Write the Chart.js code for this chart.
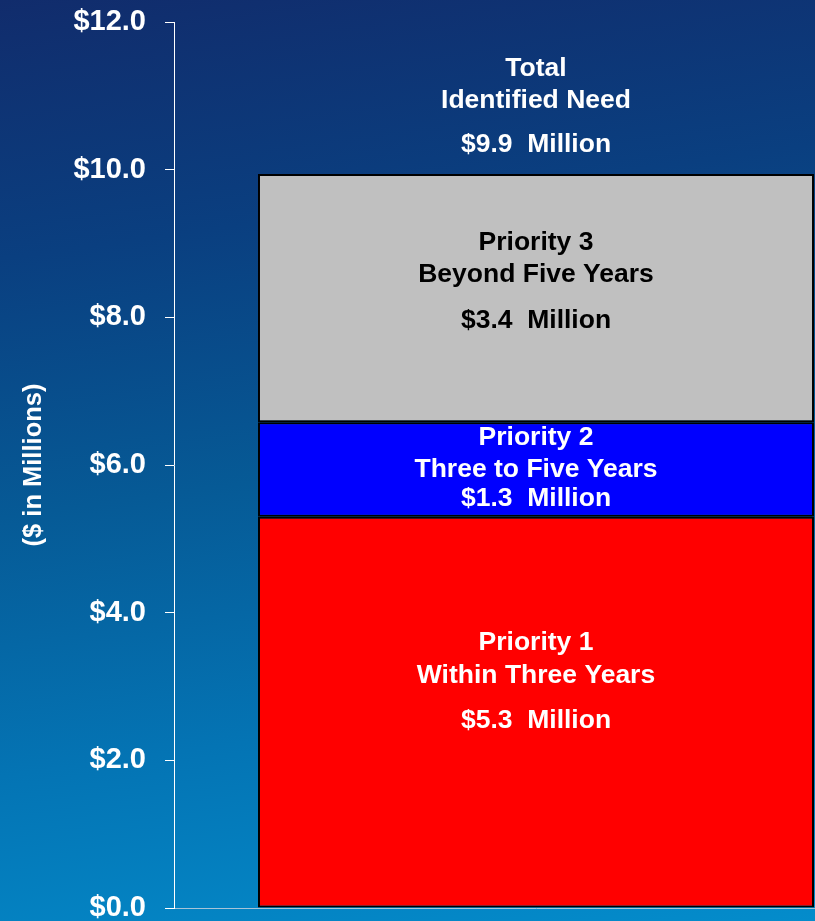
<!DOCTYPE html>
<html>
<head>
<meta charset="utf-8">
<script src="https://cdn.jsdelivr.net/npm/chart.js@4.4.0/dist/chart.umd.min.js"></script>
<style>
  html, body { margin: 0; padding: 0; overflow: hidden; width: 815px; height: 921px; }
  body { background: linear-gradient(172deg, #112c6c 0%, #0a3f80 25%, #065a96 50%, #0474b4 75%, #048ccb 100%); }
  canvas { display: block; }
</style>
</head>
<body>
<canvas id="needChart" width="898" height="921"></canvas>
<script>
// segment values ($ millions)
const categories = [''];
const segmentNames = ['Priority 1', 'Priority 2', 'Priority 3'];
const segmentValues = [5.3, 1.28, 3.36];
const segmentColors = ['#ff0000', '#0000ff', '#c0c0c0'];
const segmentTextColors = ['#ffffff', '#ffffff', '#000000'];
const segmentLines = [
  ['Priority 1', 'Within Three Years', '$5.3  Million'],
  ['Priority 2', 'Three to Five Years', '$1.3  Million'],
  ['Priority 3', 'Beyond Five Years', '$3.4  Million']
];
const totalLines = ['Total', 'Identified Need', '$9.9  Million'];

// vertical offsets of the text lines, relative to segment centre
const lineOffsets = [[-69, -36, 9], [-32, 0, 29], [-55, -23, 23]];
const totalOffsets = [-105, -73, -29];

const labelPlugin = {
  id: 'segmentLabels',
  afterDatasetsDraw(chart) {
    const ctx = chart.ctx;
    ctx.save();
    ctx.font = 'bold 26.5px "Liberation Sans", Arial, sans-serif';
    ctx.textAlign = 'center';
    ctx.textBaseline = 'middle';
    let topY = 0, cx = 0;
    chart.data.datasets.forEach((ds, i) => {
      const el = chart.getDatasetMeta(i).data[0];
      const mid = (el.y + el.base) / 2;
      cx = el.x;
      topY = el.y;
      ctx.fillStyle = segmentTextColors[i];
      segmentLines[i].forEach((t, j) => ctx.fillText(t, el.x, mid + lineOffsets[i][j]));
    });
    ctx.fillStyle = '#ffffff';
    totalLines.forEach((t, j) => ctx.fillText(t, cx, topY + totalOffsets[j]));
    ctx.restore();
  }
};

const ctx = document.getElementById('needChart').getContext('2d');
new Chart(ctx, {
  type: 'bar',
  data: {
    labels: categories,
    datasets: segmentNames.map((name, i) => ({
      label: name,
      data: [segmentValues[i]],
      backgroundColor: segmentColors[i],
      borderColor: '#000000',
      borderWidth: 2,
      borderSkipped: false,
      barPercentage: 0.768,
      categoryPercentage: 1
    }))
  },
  options: {
    responsive: false,
    animation: false,
    layout: { padding: { top: 22, bottom: 5, right: 0, left: 0 } },
    plugins: { legend: { display: false }, tooltip: { enabled: false } },
    scales: {
      x: {
        stacked: true,
        offset: true,
        grid: { display: false },
        ticks: { display: false },
        border: { display: true, color: '#a8c4d8', width: 1 }
      },
      y: {
        stacked: true,
        min: 0,
        max: 12,
        ticks: {
          stepSize: 2,
          color: '#ffffff',
          padding: 19,
          font: { family: '"Liberation Sans", Arial, sans-serif', size: 29, weight: 'bold' },
          callback: v => '$' + Number(v).toFixed(1)
        },
        grid: { drawOnChartArea: false, color: '#ffffff', tickLength: 9 },
        border: { display: true, color: '#ffffff', width: 1 },
        title: {
          display: true,
          text: '($ in Millions)',
          color: '#ffffff',
          padding: { top: 19, bottom: 0 },
          font: { family: '"Liberation Sans", Arial, sans-serif', size: 25.5, weight: 'bold' }
        },
        afterFit(scale) {
          scale.width = 174;
          scale.paddingTop = 0;
          scale.paddingBottom = 0;
        }
      }
    }
  },
  plugins: [labelPlugin]
});
</script>
</body>
</html>
